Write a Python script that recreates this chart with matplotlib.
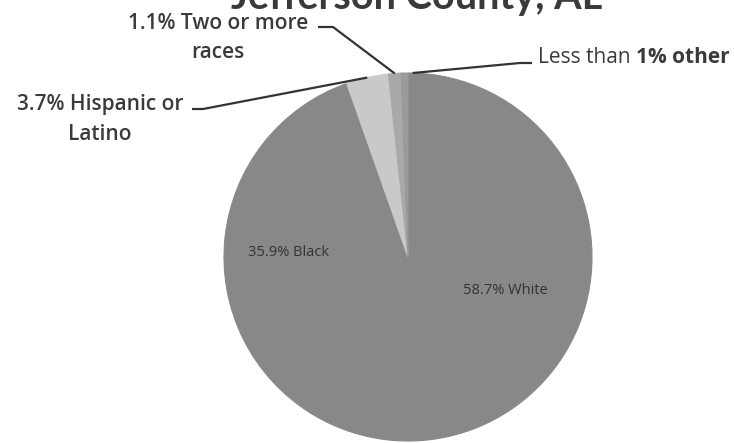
import numpy as np
import matplotlib
matplotlib.use("Agg")
import matplotlib.pyplot as plt

title = "Jefferson County, AL"
categories = ["White", "Black", "Hispanic or Latino", "Two or more races", "Other"]
values = [58.7, 35.9, 3.7, 1.1, 0.6]
colors = ["#888888", "#888888", "#c9c9c9", "#a9a9a9", "#9a9a9a"]

W, H = 734, 443
fig = plt.figure(figsize=(W / 100, H / 100), dpi=100)
ax = fig.add_axes([0, 0, 1, 1])

cx, cy_pix, R = 408, 257, 184
cy = H - cy_pix
wedges, _ = ax.pie(values, colors=colors, startangle=90, counterclock=False,
                   center=(cx, cy), radius=R, frame=True,
                   wedgeprops=dict(linewidth=0.8))
for w, c in zip(wedges, colors):
    w.set_edgecolor(c)
ax.set_xlim(0, W)
ax.set_ylim(0, H)
ax.set_aspect("equal")
ax.axis("off")

def edge_point(w, r=1.0):
    a = np.deg2rad((w.theta1 + w.theta2) / 2)
    return cx + R * r * np.cos(a), cy + R * r * np.sin(a)

font = "Open Sans"
tc = "#3a3a3a"
fs = 15

# Title (partially cut off at top)
fig.text(0.568, 1 - 9 / H, title, ha="center", va="baseline", fontsize=28.5,
         fontweight="bold", color="#3a3a3a", family="Lato")

# Inside labels
ax.text(288, H - 253, f"{values[1]}% Black", ha="center", va="center",
        fontsize=10.5, color="#333333", family=font)
ax.text(505, H - 290, f"{values[0]}% White", ha="center", va="center",
        fontsize=10.5, color="#333333", family=font)

lw = 1.6
lc = "#333333"
# Hispanic
px, py = edge_point(wedges[2])
ax.plot([192, 203, px], [H - 109, H - 109, py], color=lc, lw=lw, solid_capstyle="butt")
ax.text(100, H - 104, f"{values[2]}% Hispanic or", ha="center", va="center",
        fontsize=fs, fontweight="semibold", color=tc, family=font)
ax.text(100, H - 134, "Latino", ha="center", va="center",
        fontsize=fs, fontweight="semibold", color=tc, family=font)

# Two or more
px, py = edge_point(wedges[3])
ax.plot([318, 333, px], [H - 27, H - 27, py], color=lc, lw=lw, solid_capstyle="butt")
ax.text(218, H - 23, f"{values[3]}% Two or more", ha="center", va="center",
        fontsize=fs, fontweight="semibold", color=tc, family=font)
ax.text(218, H - 52, "races", ha="center", va="center",
        fontsize=fs, fontweight="semibold", color=tc, family=font)

# Other
px, py = edge_point(wedges[4])
ax.plot([532, 520, px + 8], [H - 63, H - 63, py], color=lc, lw=lw, solid_capstyle="butt")
t1 = ax.text(538, H - 57, "Less than ", ha="left", va="center",
             fontsize=fs, color=tc, family=font)
fig.canvas.draw()
bb = t1.get_window_extent()
x2 = ax.transData.inverted().transform((bb.x1, bb.y0))[0]
ax.text(x2, H - 57, "1% other", ha="left", va="center",
        fontsize=fs, fontweight="bold", color=tc, family=font)

fig.savefig("out.png", dpi=100)
